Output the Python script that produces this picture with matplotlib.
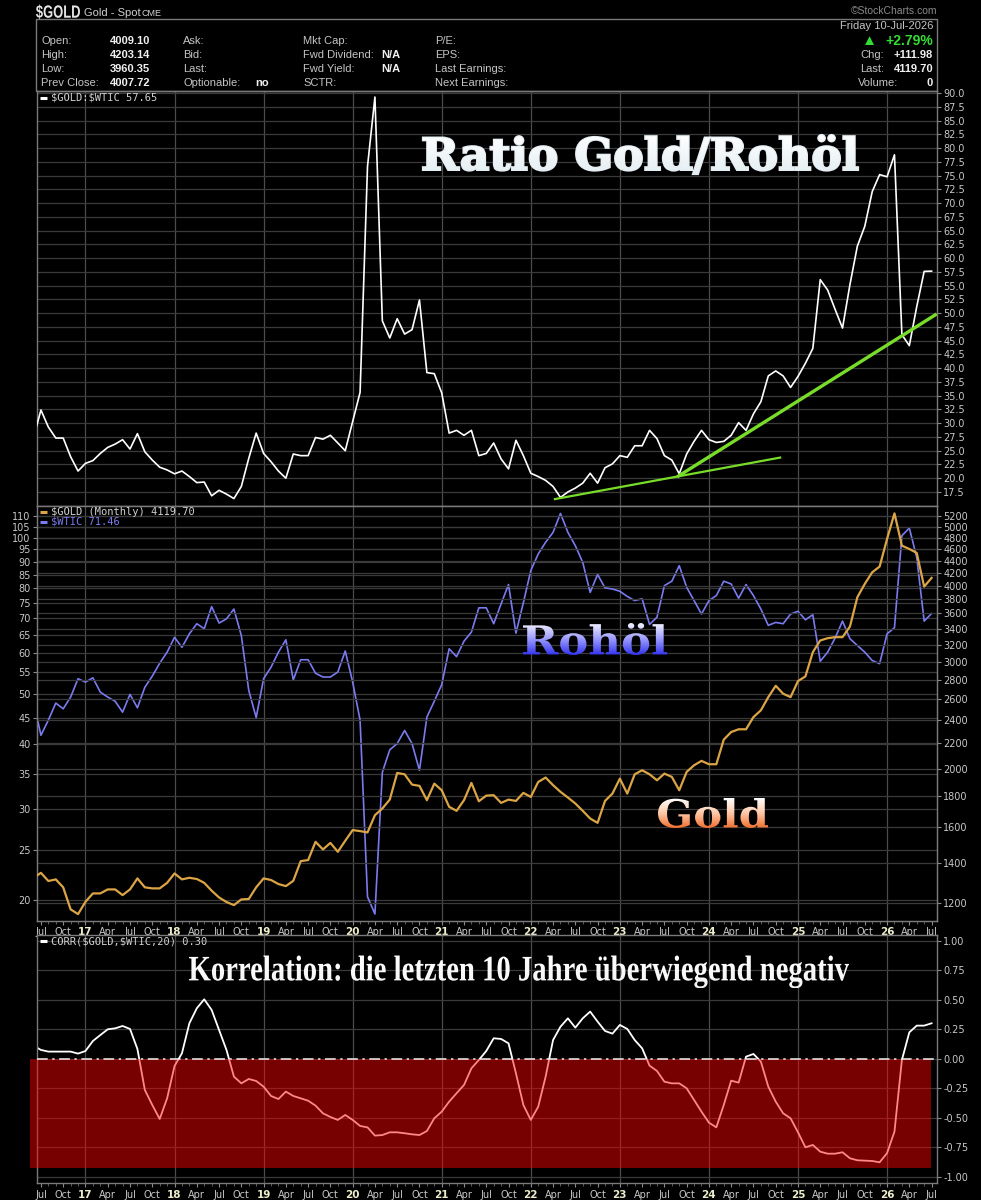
import numpy as np
import matplotlib
matplotlib.use('Agg')
import matplotlib.pyplot as plt
from matplotlib.colors import LinearSegmentedColormap
from matplotlib.font_manager import FontProperties
from matplotlib.patches import PathPatch, Rectangle
from matplotlib.textpath import TextPath
from matplotlib.transforms import Affine2D
from matplotlib.ticker import FixedLocator, NullLocator, MultipleLocator, FuncFormatter

plt.rcParams['text.parse_math'] = False
plt.rcParams['font.family'] = ['DejaVu Sans']

# monthly closes, Jun 2016 .. Jul 2026 (index 0 = Jul 2016)
ratio = [27.4, 32.4, 29.3, 27.3, 27.3, 23.9, 21.3, 22.7, 23.2, 24.5, 25.6, 26.2, 27.0,
         25.3, 28.1, 24.8, 23.3, 22.0, 21.5, 20.8, 21.3, 20.3, 19.2, 19.3, 16.8,
         17.8, 17.1, 16.3, 18.5, 23.6, 28.2, 24.5, 23.0, 21.3, 20.0, 24.4, 24.1,
         24.1, 27.4, 27.1, 27.8, 26.4, 25.0, 30.3, 35.6, 76.7, 89.3, 48.6, 45.5,
         49.0, 46.2, 47.0, 52.4, 39.2, 39.0, 35.5, 28.2, 28.7, 27.8, 28.7, 24.1,
         24.5, 26.4, 23.5, 21.7, 26.9, 24.1, 20.9, 20.3, 19.6, 18.5, 16.5, 17.5,
         18.2, 19.1, 20.9, 19.1, 21.9, 22.6, 24.1, 23.8, 25.9, 25.9, 28.7, 27.2,
         24.1, 23.3, 20.8, 24.4, 26.7, 28.7, 27.0, 26.5, 26.7, 27.8, 30.1, 28.7,
         31.7, 33.9, 38.6, 39.5, 38.6, 36.5, 38.5, 40.9, 43.6, 56.1, 54.2, 50.7,
         47.3, 55.2, 62.2, 65.8, 72.1, 75.2, 74.8, 78.8, 46.1, 44.1, 51.2, 57.6,
         57.65]
wtic = [48.3, 41.6, 44.5, 48.0, 46.8, 49.3, 53.5, 52.7, 53.7, 50.4, 49.3, 48.4, 46.1,
        49.9, 47.0, 51.5, 54.1, 57.3, 60.2, 64.3, 61.5, 65.3, 68.3, 66.8, 73.7,
        68.5, 69.8, 72.9, 64.8, 50.8, 45.0, 53.5, 56.3, 60.2, 63.6, 53.2, 58.2,
        58.2, 54.8, 53.9, 53.9, 55.1, 60.5, 52.7, 44.5, 20.3, 18.8, 35.3, 39.0,
        40.1, 42.5, 40.1, 35.6, 45.1, 48.4, 52.1, 61.1, 59.0, 63.2, 65.8, 73.3,
        73.3, 68.3, 74.6, 81.3, 65.5, 75.0, 86.5, 93.1, 98.1, 102.5, 111.5, 102.5,
        96.6, 89.7, 78.5, 85.0, 80.1, 79.7, 78.9, 77.1, 75.7, 76.3, 68.1, 70.3,
        80.9, 82.5, 88.4, 80.3, 75.7, 71.3, 75.7, 77.4, 82.5, 81.5, 76.5, 81.3,
        77.4, 72.9, 67.8, 68.7, 68.3, 71.3, 72.2, 69.5, 71.1, 57.8, 60.2, 64.1,
        69.1, 63.9, 62.0, 60.2, 58.0, 57.2, 65.3, 67.1, 101.0, 104.5, 91.7, 69.1,
        71.46]
gold = [1322, 1347, 1306, 1314, 1275, 1173, 1152, 1207, 1246, 1246, 1265, 1265, 1238,
        1265, 1319, 1275, 1270, 1270, 1297, 1344, 1314, 1322, 1316, 1297, 1259,
        1227, 1206, 1192, 1218, 1220, 1275, 1319, 1311, 1291, 1281, 1307, 1408,
        1414, 1515, 1472, 1509, 1459, 1521, 1584, 1578, 1570, 1676, 1719, 1778,
        1967, 1957, 1882, 1873, 1774, 1889, 1842, 1730, 1704, 1774, 1894, 1767,
        1805, 1808, 1756, 1778, 1769, 1824, 1796, 1901, 1933, 1878, 1831, 1792,
        1752, 1704, 1655, 1628, 1769, 1819, 1925, 1819, 1957, 1987, 1957, 1913,
        1962, 1938, 1842, 1975, 2025, 2059, 2033, 2033, 2232, 2297, 2321, 2321,
        2431, 2494, 2622, 2737, 2656, 2622, 2786, 2836, 3109, 3250, 3278, 3291,
        3291, 3426, 3829, 4027, 4208, 4300, 4774, 5261, 4655, 4597, 4528, 3986,
        4119.7]
corr = [0.11, 0.074, 0.06, 0.06, 0.06, 0.06, 0.043, 0.065, 0.15, 0.20, 0.249, 0.257,
        0.277, 0.252, 0.082, -0.265, -0.392, -0.511, -0.336, -0.062, 0.046, 0.30,
        0.427, 0.503, 0.413, 0.243, 0.074, -0.152, -0.209, -0.172, -0.189, -0.237,
        -0.316, -0.342, -0.279, -0.316, -0.336, -0.356, -0.398, -0.463, -0.494,
        -0.519, -0.477, -0.519, -0.570, -0.582, -0.652, -0.647, -0.624, -0.624,
        -0.632, -0.641, -0.647, -0.613, -0.505, -0.449, -0.364, -0.293, -0.223,
        -0.082, -0.011, 0.065, 0.173, 0.167, 0.130, -0.124, -0.392, -0.519, -0.407,
        -0.152, 0.158, 0.271, 0.342, 0.263, 0.342, 0.399, 0.314, 0.235, 0.212,
        0.286, 0.252, 0.158, 0.088, -0.059, -0.104, -0.195, -0.209, -0.209, -0.251,
        -0.350, -0.449, -0.542, -0.582, -0.392, -0.186, -0.203, 0.017, 0.040,
        -0.025, -0.237, -0.364, -0.463, -0.505, -0.624, -0.751, -0.731, -0.788,
        -0.805, -0.805, -0.793, -0.844, -0.861, -0.864, -0.867, -0.878, -0.80,
        -0.618, -0.011, 0.223, 0.28, 0.28, 0.30]

# hand drawn trend lines (months after Jul 2016, ratio)
trend_low = ([69.25, 99.6], [16.2, 23.75])
trend_high = ([85.9, 120.5], [20.4, 49.7])
neg_band = (-1.51, 119.9, -0.924, 0.0)   # x0, x1, y0, y1

W, H = 981, 1200
XLIM = (-0.53, 120.73)
x = np.arange(len(ratio)) - 1

mon_names = ['Jan', 'Feb', 'Mar', 'Apr', 'May', 'Jun', 'Jul', 'Aug', 'Sep', 'Oct', 'Nov', 'Dec']
q_pos, q_lab, jan_pos = [], [], []
for i in range(0, 121, 3):
    m = (6 + i) % 12
    yr = 2016 + (6 + i) // 12
    q_pos.append(i)
    if m == 0:
        q_lab.append('%02d' % (yr % 100))
        jan_pos.append(i)
    else:
        q_lab.append(mon_names[m])

fig = plt.figure(figsize=(W / 100, H / 100), dpi=100, facecolor='black')


def px_axes(x0, y0, x1, y1):
    return fig.add_axes([x0 / W, 1 - y1 / H, (x1 - x0) / W, (y1 - y0) / H])


LBL = '#c8c8c8'
GRID = '#3a3a3a'


def style(ax, xlabels):
    ax.set_facecolor('black')
    for s in ax.spines.values():
        s.set_color('#7a7a7a')
        s.set_linewidth(1)
    ax.set_xlim(*XLIM)
    ax.xaxis.set_major_locator(FixedLocator(q_pos))
    ax.xaxis.set_minor_locator(MultipleLocator(1))
    ax.tick_params(axis='both', which='major', colors='#8a8a8a', labelcolor=LBL,
                   labelsize=7, length=3, width=0.8, pad=1.5)
    ax.tick_params(axis='x', which='minor', length=2, color='#6a6a6a')
    if xlabels:
        ax.set_xticklabels(q_lab)
        for t, lab in zip(ax.get_xticklabels(), q_lab):
            if lab.isdigit():
                t.set_fontweight('bold')
                t.set_color('#eeeecc')
                t.set_fontsize(7.5)
    else:
        ax.tick_params(axis='x', labelbottom=False)
    for p in jan_pos:
        ax.axvline(p, color='#4c4c4c', lw=0.9, zorder=0)


# ---- top panel: ratio
ax1 = px_axes(37, 91, 937, 505.7)
style(ax1, False)
ax1.plot(x, ratio, color='white', lw=1.2, zorder=3)
ax1.plot(*trend_low, color='#78dc28', lw=1.6, zorder=4)
ax1.plot(*trend_high, color='#78dc28', lw=2.4, zorder=4)
ax1.set_ylim(15.0, 90.4)
ax1.yaxis.tick_right()
ax1.set_yticks(np.arange(17.5, 90.01, 2.5))
ax1.yaxis.set_major_formatter(FuncFormatter(lambda v, p: '%.1f' % v))
ax1.grid(axis='y', color=GRID, lw=0.9)
ax1.set_axisbelow(True)

# ---- middle panel: gold and oil (log)
ax2 = px_axes(37, 505.7, 937, 920.7)
style(ax2, True)
ax2.set_yscale('log')
ax2.set_ylim(18.25, 115.4)
wt_ticks = list(range(20, 111, 5))
ax2.yaxis.set_major_locator(FixedLocator(wt_ticks))
ax2.yaxis.set_minor_locator(NullLocator())
ax2.yaxis.set_major_formatter(FuncFormatter(lambda v, p: '%d' % round(v)))
ax2.grid(axis='y', color=GRID, lw=0.9)
ax2.plot(x, wtic, color='#7b7bf0', lw=1.2, zorder=3)

ax2g = ax2.twinx()
ax2g.set_yscale('log')
ax2g.set_ylim(1123.6, 5416)
ax2g.yaxis.set_major_locator(FixedLocator(list(range(1200, 5201, 200))))
ax2g.yaxis.set_minor_locator(NullLocator())
ax2g.yaxis.set_major_formatter(FuncFormatter(lambda v, p: '%d' % round(v)))
ax2g.tick_params(axis='y', colors='#8a8a8a', labelcolor=LBL, labelsize=7, length=3, pad=1.5)
for s in ax2g.spines.values():
    s.set_color('#7a7a7a')
ax2g.grid(axis='y', color=GRID, lw=0.9)
ax2g.plot(x, gold, color='#dba545', lw=1.6, zorder=3)

# ---- bottom panel: correlation
ax3 = px_axes(37, 935, 937, 1183.3)
style(ax3, True)
ax3.set_ylim(-1.056, 1.048)
ax3.yaxis.tick_right()
ax3.set_yticks(np.arange(-1, 1.01, 0.25))
ax3.yaxis.set_major_formatter(FuncFormatter(lambda v, p: '%.2f' % v))
ax3.grid(axis='y', color=GRID, lw=0.9)
ax3.set_axisbelow(True)
ax3.plot(x, corr, color='white', lw=1.3, zorder=2)
bx0, bx1, by0, by1 = neg_band
ax3.add_patch(Rectangle((bx0, by0), bx1 - bx0, by1 - by0, facecolor=(1, 0, 0, 0.47),
                        edgecolor='none', zorder=3, clip_on=False))
ax3.axhline(0, color='#f0f0f0', lw=1.1, ls=(0, (7, 3, 1.5, 3)), zorder=4)

# ---- overlay in pixel coordinates
ov = fig.add_axes([0, 0, 1, 1], zorder=20)
ov.set_xlim(0, W)
ov.set_ylim(H, 0)
ov.axis('off')


def text_path(s, box, family, weight='bold'):
    x0, y0, x1, y1 = box
    tp = TextPath((0, 0), s, size=72, prop=FontProperties(family=family, weight=weight))
    ext = tp.get_extents()
    tr = (Affine2D().translate(-ext.x0, -ext.y0)
          .scale((x1 - x0) / ext.width, -(y1 - y0) / ext.height)
          .translate(x0, y1))
    return tr.transform_path(tp)


def grad_text(s, box, family, colors, fatten=0):
    x0, y0, x1, y1 = box
    path = text_path(s, box, family)
    if fatten:
        ov.add_patch(PathPatch(path, fc=colors[-1], ec=colors[len(colors) // 2], lw=fatten,
                               transform=ov.transData, zorder=4))
    patch = PathPatch(path, fc='none', ec='none', transform=ov.transData)
    ov.add_patch(patch)
    cmap = LinearSegmentedColormap.from_list('g', colors)
    img = ov.imshow(np.linspace(0, 1, 64).reshape(-1, 1), cmap=cmap, extent=(x0, x1, y1, y0),
                    aspect='auto', interpolation='bilinear', zorder=5)
    img.set_clip_path(patch)


grad_text('Ratio Gold/Rohöl', (423, 135, 858, 174), 'DejaVu Serif', ['#ffffff', '#e4eef2'], fatten=1.6)
grad_text('Rohöl', (523, 623, 667, 655), 'DejaVu Serif', ['#f2f2ff', '#9a9aff', '#3434f0'])
grad_text('Gold', (658, 798, 768, 828), 'DejaVu Serif', ['#ffffff', '#ffc8a8', '#f07030'])
grad_text('Korrelation: die letzten 10 Jahre überwiegend negativ', (189, 955.5, 849, 988.3),
          'Liberation Serif', ['#ffffff', '#f4f4f4'])

# header
HF = ['Liberation Sans', 'DejaVu Sans']
ov.add_patch(Rectangle((36, 19.3), 901, 71.7, fill=False, ec='#7a7a7a', lw=1))
ov.add_patch(PathPatch(text_path('$GOLD', (36, 4.5, 80, 19), 'Liberation Sans'),
                       fc='#e6e6e6', ec='none', transform=ov.transData))
ov.text(84, 12.5, 'Gold - Spot', color='#d0d0d0', fontsize=8, family=HF, va='center')
ov.text(142, 13, 'CME', color='#d0d0d0', fontsize=6.5, family=HF, va='center')
ov.text(937, 11.5, '©StockCharts.com', color='#8a8a8a', fontsize=7.5, family=HF, va='center', ha='right')

rows = [40.7, 54.7, 69.0, 83.3]
col_labels = [(41, ['Open:', 'High:', 'Low:', 'Prev Close:']),
              (183, ['Ask:', 'Bid:', 'Last:', 'Optionable:']),
              (303, ['Mkt Cap:', 'Fwd Dividend:', 'Fwd Yield:', 'SCTR:']),
              (435, ['P/E:', 'EPS:', 'Last Earnings:', 'Next Earnings:'])]
for cx, labs in col_labels:
    for ry, lab in zip(rows, labs):
        ov.text(cx, ry, lab, color='#c4c4c4', fontsize=8, family=HF, va='center')
col_values = [(150, ['4009.10', '4203.14', '3960.35', '4007.72']),
              (269, ['', '', '', 'no']),
              (400, ['', 'N/A', 'N/A', ''])]
for cx, vals in col_values:
    for ry, v in zip(rows, vals):
        ov.text(cx, ry, v, color='#f0f0f0', fontsize=8, fontweight='bold', family=HF,
                va='center', ha='right')

ov.text(933, 26, 'Friday 10-Jul-2026', color='#c4c4c4', fontsize=8, family=HF, va='center', ha='right')
ov.text(933, 40.7, '+2.79%', color='#33dd33', fontsize=10, fontweight='bold', family=HF,
        va='center', ha='right')
ov.text(862, 40.7, '▲', color='#33dd33', fontsize=11, family=HF, va='center', ha='left')
for ry, lab, val, lx in [(54.7, 'Chg:', '+111.98', 860), (69.0, 'Last:', '4119.70', 860),
                         (83.3, 'Volume:', '0', 858)]:
    ov.text(933, ry, val, color='#f0f0f0', fontsize=8, fontweight='bold', family=HF,
            va='center', ha='right')
    ov.text(lx, ry, lab, color='#c4c4c4', fontsize=8, family=HF, va='center')

# panel legends
MONO = 'DejaVu Sans Mono'
for ly, col, txt, tcol in [(97.5, 'white', '$GOLD:$WTIC 57.65', '#d0d0d0'),
                           (512, '#dba545', '$GOLD (Monthly) 4119.70', '#d0d0d0'),
                           (522, '#7b7bf0', '$WTIC 71.46', '#7b7bf0'),
                           (941, 'white', 'CORR($GOLD,$WTIC,20) 0.30', '#d0d0d0')]:
    ov.plot([40, 47], [ly, ly], color=col, lw=2.2, solid_capstyle='butt')
    ov.text(51, ly, txt, color=tcol, fontsize=7.5, family=MONO, va='center')

ov.set_xlim(0, W)
ov.set_ylim(H, 0)

fig.savefig('out.png', dpi=100, facecolor='black')
